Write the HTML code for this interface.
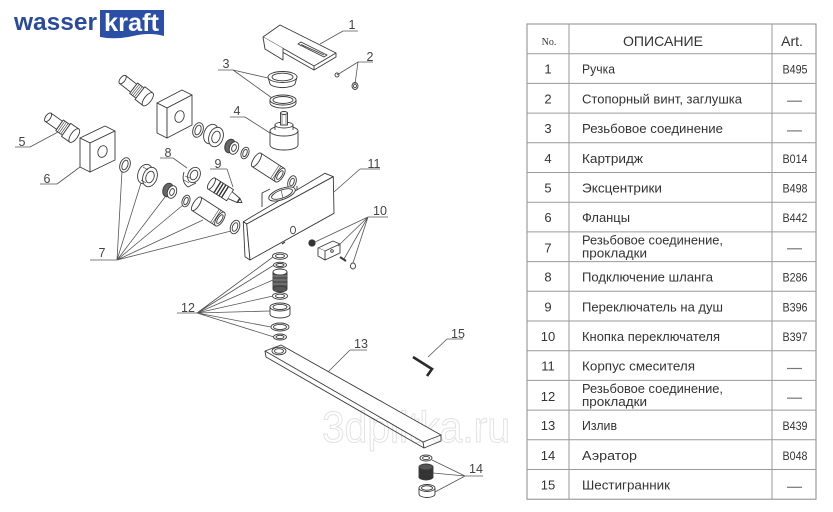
<!DOCTYPE html>
<html><head><meta charset="utf-8">
<style>
html,body{margin:0;padding:0;background:#fff;}
svg{display:block;}
</style></head>
<body>
<svg width="833" height="512" viewBox="0 0 833 512" xmlns="http://www.w3.org/2000/svg" font-family="'Liberation Sans', sans-serif">
<rect width="833" height="512" fill="#fff"/>

<!-- LOGO -->
<text x="14" y="30" font-size="24" font-weight="bold" fill="#2a4a9c" textLength="83" lengthAdjust="spacingAndGlyphs">wasser</text>
<path d="M100,10 H164 V36 Q150,32 133,36 Q116,40 100,37 Z" fill="#2b4fa6"/>
<text x="104" y="31" font-size="25" font-weight="bold" fill="#fff" textLength="55" lengthAdjust="spacingAndGlyphs">kraft</text>

<!-- WATERMARK -->
<text x="322" y="442" font-size="44" fill="#fff" stroke="#e2e2e2" stroke-width="1" textLength="188" lengthAdjust="spacingAndGlyphs">3dplitka.ru</text>

<g fill="none" stroke="#3a3a3a" stroke-width="0.9" stroke-linejoin="round">
<!-- Part 1 handle -->
<path d="M263,37 L280,25 L336,53 L314,66 Z" fill="#fff"/>
<path d="M336,53 L336,57 L314,70 L314,66"/>
<path d="M283,52.4 L314,70"/>
<path d="M263,37 L265,49 L283,60 L283,48.4" fill="#fff"/>
<path d="M298,44 L301,42 L327,55 L324,57 Z"/>
<path d="M301,44.5 L324,55"/>
<!-- Part 2 -->
<circle cx="337" cy="75" r="2"/>
<ellipse cx="355" cy="86" rx="3" ry="3.5"/>
<ellipse cx="355" cy="86" rx="1.5" ry="1.8"/>
<!-- Part 3 cap -->
<path d="M268,77 L270,84 A13,5 0 0 0 295,84 L297,77"/>
<ellipse cx="282.5" cy="77" rx="14.5" ry="5.5" fill="#fff"/>
<ellipse cx="282.5" cy="77" rx="10.5" ry="3.8"/>
<!-- Part 3 ring -->
<path d="M270,100 L270,103 A13,5 0 0 0 296,103 L296,100"/>
<ellipse cx="283" cy="100" rx="13" ry="5" fill="#fff"/>
<ellipse cx="283" cy="100" rx="10" ry="3.5"/>
<!-- Part 4 cartridge -->
<path d="M270,131 L270,145 A14,5 0 0 0 298,145 L298,131"/>
<ellipse cx="284" cy="131" rx="14" ry="5" fill="#fff"/>
<path d="M275,130 L275,125 L293,125 L293,130" fill="#fff"/>
<ellipse cx="284" cy="125" rx="9" ry="3" fill="#fff"/>
<rect x="280.5" y="113" width="7" height="12" fill="#fff"/>
<ellipse cx="284" cy="113" rx="3.5" ry="1.5" fill="#fff"/>
<path d="M282,115 V124 M286,115 V124" stroke-width="0.6"/>

<!-- Eccentric 5 -->
<g transform="translate(62,127) rotate(35)">
<rect x="-17" y="-5" width="14" height="10" fill="#fff"/>
<ellipse cx="-17" cy="0" rx="2.5" ry="5" fill="#fff"/>
<rect x="-3" y="-6.5" width="8" height="13" fill="#fff"/>
<path d="M-1,-6.5 V6.5 M1,-6.5 V6.5 M3,-6.5 V6.5" stroke-width="0.6"/>
<rect x="5" y="-8" width="10" height="16" fill="#fff"/>
<ellipse cx="15" cy="0" rx="3.5" ry="8" fill="#fff"/>
</g>
<!-- Eccentric upper -->
<g transform="translate(136,90) rotate(38)">
<rect x="-17" y="-5" width="14" height="10" fill="#fff"/>
<ellipse cx="-17" cy="0" rx="2.5" ry="5" fill="#fff"/>
<rect x="-3" y="-6.5" width="8" height="13" fill="#fff"/>
<path d="M-1,-6.5 V6.5 M1,-6.5 V6.5 M3,-6.5 V6.5" stroke-width="0.6"/>
<rect x="5" y="-8" width="10" height="16" fill="#fff"/>
<ellipse cx="15" cy="0" rx="3.5" ry="8" fill="#fff"/>
</g>
<!-- Flange 6 -->
<path d="M80,138 L105,126 L115,131 L90,143 Z" fill="#fff"/>
<path d="M80,138 L90,143 L90,172 L80,167 Z" fill="#fff"/>
<path d="M90,143 L115,131 L115,160 L90,172 Z" fill="#fff"/>
<ellipse cx="102.5" cy="151.5" rx="4.5" ry="6" transform="rotate(20 102.5 151.5)"/>
<!-- Flange upper -->
<path d="M157,103 L182,90 L192,95 L167,108 Z" fill="#fff"/>
<path d="M157,103 L167,108 L167,138 L157,133 Z" fill="#fff"/>
<path d="M167,108 L192,95 L192,125 L167,138 Z" fill="#fff"/>
<ellipse cx="179.5" cy="116.5" rx="4.5" ry="6" transform="rotate(20 179.5 116.5)"/>

<!-- Row of parts 7 (lower) -->
<ellipse cx="125" cy="165" rx="5" ry="7.5" transform="rotate(20 125 165)"/>
<ellipse cx="125" cy="165" rx="2.8" ry="5" transform="rotate(20 125 165)"/>
<ellipse cx="145" cy="174" rx="7" ry="10" transform="rotate(20 145 174)" fill="#fff"/>
<ellipse cx="150" cy="177" rx="7" ry="10" transform="rotate(20 150 177)" fill="#fff"/>
<ellipse cx="150" cy="177" rx="4" ry="6" transform="rotate(20 150 177)"/>
<path d="M143,167 L148,170 M141,180 L146,183" stroke-width="0.6"/>
<ellipse cx="168" cy="190" rx="5" ry="7" transform="rotate(20 168 190)" fill="#666"/>
<ellipse cx="172" cy="192" rx="4.5" ry="6.5" transform="rotate(20 172 192)" fill="#fff"/>
<ellipse cx="172" cy="192" rx="2.2" ry="3.5" transform="rotate(20 172 192)"/>
<ellipse cx="186" cy="201" rx="3.8" ry="6" transform="rotate(20 186 201)"/>
<ellipse cx="186" cy="201" rx="2" ry="3.8" transform="rotate(20 186 201)"/>
<g transform="translate(209,212) rotate(33)">
<rect x="-15" y="-8" width="28" height="16" fill="#fff"/>
<ellipse cx="-15" cy="0" rx="3" ry="8" fill="#fff"/>
<ellipse cx="13" cy="0" rx="3.5" ry="8" fill="#fff"/>
<ellipse cx="13" cy="0" rx="2" ry="5"/>
<path d="M7,-8 V8 M9,-8 V8" stroke-width="0.6"/>
</g>
<ellipse cx="235" cy="227" rx="4.5" ry="7" transform="rotate(20 235 227)"/>
<ellipse cx="235" cy="227" rx="2.5" ry="4.5" transform="rotate(20 235 227)"/>

<!-- Row of parts (upper) -->
<ellipse cx="198" cy="130" rx="5" ry="7.5" transform="rotate(20 198 130)"/>
<ellipse cx="198" cy="130" rx="2.8" ry="5" transform="rotate(20 198 130)"/>
<ellipse cx="211" cy="134" rx="7" ry="10" transform="rotate(20 211 134)" fill="#fff"/>
<ellipse cx="216" cy="137" rx="7" ry="10" transform="rotate(20 216 137)" fill="#fff"/>
<ellipse cx="216" cy="137" rx="4" ry="6" transform="rotate(20 216 137)"/>
<ellipse cx="230" cy="146" rx="5" ry="7" transform="rotate(20 230 146)" fill="#666"/>
<ellipse cx="234" cy="148" rx="4.5" ry="6.5" transform="rotate(20 234 148)" fill="#fff"/>
<ellipse cx="234" cy="148" rx="2.2" ry="3.5" transform="rotate(20 234 148)"/>
<ellipse cx="245" cy="153" rx="3.8" ry="6" transform="rotate(20 245 153)"/>
<ellipse cx="245" cy="153" rx="2" ry="3.8" transform="rotate(20 245 153)"/>
<g transform="translate(269,168) rotate(33)">
<rect x="-15" y="-8" width="28" height="16" fill="#fff"/>
<ellipse cx="-15" cy="0" rx="3" ry="8" fill="#fff"/>
<ellipse cx="13" cy="0" rx="3.5" ry="8" fill="#fff"/>
<ellipse cx="13" cy="0" rx="2" ry="5"/>
<path d="M7,-8 V8 M9,-8 V8" stroke-width="0.6"/>
</g>
<ellipse cx="292" cy="182" rx="4" ry="6.5" transform="rotate(20 292 182)"/>
<ellipse cx="292" cy="182" rx="2" ry="4" transform="rotate(20 292 182)"/>

<!-- Part 8 elbow -->
<path d="M184,172 Q181,182 188,187 L196,183" fill="#fff"/>
<ellipse cx="194" cy="175" rx="6" ry="8" transform="rotate(25 194 175)" fill="#fff"/>
<ellipse cx="194" cy="175" rx="3.5" ry="5" transform="rotate(25 194 175)"/>
<path d="M185,176 L190,178 M184,180 L189,183" stroke-width="0.6"/>

<!-- Part 9 diverter -->
<g transform="translate(225,192) rotate(32)">
<rect x="-16" y="-6.5" width="22" height="13" fill="#fff"/>
<ellipse cx="-16" cy="0" rx="2.5" ry="6.5" fill="#fff"/>
<path d="M-9,-6.5 V6.5 M-6,-6.5 V6.5 M-3,-6.5 V6.5 M0,-6.5 V6.5" stroke="#333" stroke-width="1.4"/>
<path d="M6,-4 L16,-2.5 L20,0 L16,2.5 L6,4" fill="#fff"/>
<path d="M16,-2.5 L16,2.5" stroke-width="1.6"/>
</g>

<!-- Part 11 body -->
<path d="M243.3,221.7 L325,173.3 L333.3,176.7 L246.7,224 Z" fill="#fff"/>
<path d="M243.3,221.7 L246.7,224 L250,260 L245,256.7 Z" fill="#fff"/>
<path d="M246.7,224 L333.3,176.7 L334,213.3 L250,260 Z" fill="#fff"/>
<path d="M262,207 L262,193 L270,189 M297,190 L297,186" />
<ellipse cx="282" cy="194" rx="14" ry="5.5" fill="#fff" transform="rotate(-20 282 194)"/>
<ellipse cx="282" cy="194" rx="11" ry="4" transform="rotate(-20 282 194)"/>
<path d="M281,190 L283,198" stroke-width="0.6"/>
<ellipse cx="293" cy="230" rx="2.5" ry="3.8"/>
<path d="M282,244 L285,242" stroke-width="1.2"/>

<!-- Part 10 -->
<circle cx="312" cy="243" r="3.2" fill="#333"/>
<path d="M318,248 L333,241 L340,244 L325,251 Z" fill="#fff"/>
<path d="M318,248 L318,256 L325,260 L325,251 M325,260 L340,253 L340,244" fill="#fff"/>
<circle cx="332" cy="251" r="1.3"/>
<path d="M340,257 L346,261" stroke-width="2"/>
<ellipse cx="353" cy="266" rx="2.5" ry="3"/>

<!-- Part 12 stack -->
<ellipse cx="280" cy="256" rx="7.5" ry="3.3"/>
<ellipse cx="280" cy="256" rx="4.5" ry="1.8"/>
<ellipse cx="280" cy="265" rx="6.5" ry="2.8"/>
<ellipse cx="280" cy="265" rx="4" ry="1.5"/>
<rect x="273" y="272" width="14" height="17" fill="#555"/>
<path d="M273,276 H287 M273,280 H287 M273,284 H287" stroke="#999" stroke-width="0.7"/>
<ellipse cx="280" cy="272" rx="7" ry="3" fill="#fff"/>
<ellipse cx="280" cy="289" rx="7" ry="3" fill="#555"/>
<ellipse cx="280" cy="296" rx="7.5" ry="3.3"/>
<ellipse cx="280" cy="296" rx="4.5" ry="1.8"/>
<path d="M270,307 L270,314 A10,4 0 0 0 290,314 L290,307" fill="#fff"/>
<ellipse cx="280" cy="307" rx="10" ry="4" fill="#fff"/>
<ellipse cx="280" cy="307" rx="7" ry="2.6"/>
<ellipse cx="280" cy="327" rx="9" ry="4"/>
<ellipse cx="280" cy="327" rx="6.5" ry="2.6"/>
<ellipse cx="280" cy="337" rx="6.5" ry="3"/>
<ellipse cx="280" cy="337" rx="4" ry="1.7"/>

<!-- Part 13 spout -->
<path d="M265,351 L281,345 L441,435 L423,442 Z" fill="#fff"/>
<path d="M265,351 L266,357 L424,448 L423,442 M424,448 L441,441 L441,435"/>
<ellipse cx="279" cy="351" rx="7" ry="3.8" fill="#fff"/>
<ellipse cx="279" cy="351" rx="4.5" ry="2.3"/>

<!-- Part 15 hex key -->
<path d="M413,357 L432,369 L427,376" stroke="#2a2a2a" stroke-width="2.6" stroke-linejoin="miter"/>

<!-- Part 14 aerator -->
<ellipse cx="426" cy="458" rx="6" ry="3"/>
<ellipse cx="426" cy="458" rx="3.5" ry="1.6"/>
<rect x="419" y="467" width="14" height="10" fill="#333"/>
<ellipse cx="426" cy="467" rx="7" ry="3" fill="#555"/>
<ellipse cx="426" cy="477" rx="7" ry="3" fill="#333"/>
<path d="M419,488 L419,494 A8,3.5 0 0 0 435,494 L435,488" fill="#fff"/>
<ellipse cx="427" cy="488" rx="8" ry="3.5" fill="#fff"/>
<ellipse cx="427" cy="488" rx="5.5" ry="2.2"/>
</g>

<!-- LEADER LINES -->
<g stroke="#555" stroke-width="0.8" fill="none">
<path d="M343,31 H358 M343,31 L320,44"/>
<path d="M358,62 H373 M358,62 L337,75 M358,62 L355,84"/>
<path d="M218,70 H233 M233,70 L268,78 M233,70 L272,98"/>
<path d="M230,117 H245 M245,117 L270,133"/>
<path d="M15,147 H30 M30,147 L58,132"/>
<path d="M40,184 H57 M57,184 L80,167"/>
<path d="M90,260 H117 M117,260 L122,171 M117,260 L141,183 M117,260 L165,197 M117,260 L183,205 M117,260 L203,220 M117,260 L231,231"/>
<path d="M160,158 H173 M173,158 L187,168"/>
<path d="M210,169 H227 M227,169 L233,187"/>
<path d="M368,217 H388 M368,217 L315,242 M368,217 L338,246 M368,217 L344,259 M368,217 L353,263"/>
<path d="M360,169 H380 M360,169 L334,192"/>
<path d="M177,313 H197 M197,313 L273,257 M197,313 L274,265 M197,313 L273,280 M197,313 L273,296 M197,313 L270,311 M197,313 L271,327 M197,313 L274,337"/>
<path d="M350,350 H367 M350,350 L328,372"/>
<path d="M447,339 H463 M447,339 L428,357"/>
<path d="M465,476 H483 M465,476 L432,460 M465,476 L433,473 M465,476 L435,492"/>
</g>

<!-- LABELS -->
<g font-size="12.5" fill="#444" text-anchor="middle">
<text x="352" y="29">1</text>
<text x="370" y="61">2</text>
<text x="226" y="68">3</text>
<text x="237" y="115">4</text>
<text x="22" y="146">5</text>
<text x="47" y="183">6</text>
<text x="102" y="257">7</text>
<text x="168" y="157">8</text>
<text x="218" y="168">9</text>
<text x="380" y="215">10</text>
<text x="374" y="168">11</text>
<text x="188" y="312">12</text>
<text x="361" y="348">13</text>
<text x="476" y="473">14</text>
<text x="458" y="338">15</text>
</g>

<!-- TABLE -->
<g stroke="#9a9a9a" stroke-width="1" fill="none">
<rect x="527" y="24" width="289" height="475.2" stroke="#8a8a8a"/>
<path d="M569,24 V499.2 M772,24 V499.2"/>
<path d="M527,53.7 H816 M527,83.4 H816 M527,113.1 H816 M527,142.8 H816 M527,172.5 H816 M527,202.2 H816 M527,231.9 H816 M527,261.6 H816 M527,291.3 H816 M527,321 H816 M527,350.7 H816 M527,380.4 H816 M527,410.1 H816 M527,439.8 H816 M527,469.5 H816"/>
</g>
<text x="549" y="45" font-family="'Liberation Serif', serif" font-size="10" fill="#333" text-anchor="middle">No.</text>
<text x="663" y="46" font-size="14" fill="#333" text-anchor="middle" textLength="80" lengthAdjust="spacingAndGlyphs">ОПИСАНИЕ</text>
<text x="792" y="46" font-size="14" fill="#333" text-anchor="middle">Art.</text>

<g font-size="13" fill="#333" text-anchor="middle">
<text x="548" y="73.7">1</text>
<text x="548" y="103.4">2</text>
<text x="548" y="133.1">3</text>
<text x="548" y="162.8">4</text>
<text x="548" y="192.5">5</text>
<text x="548" y="222.2">6</text>
<text x="548" y="252.4">7</text>
<text x="548" y="281.6">8</text>
<text x="548" y="311.3">9</text>
<text x="548" y="341">10</text>
<text x="548" y="370.7">11</text>
<text x="548" y="400.9">12</text>
<text x="548" y="430.1">13</text>
<text x="548" y="459.8">14</text>
<text x="548" y="489.5">15</text>
</g>

<g font-size="12.5" fill="#333" lengthAdjust="spacingAndGlyphs">
<text x="582" y="73.7" textLength="33" lengthAdjust="spacingAndGlyphs">Ручка</text>
<text x="582" y="103.4" textLength="160" lengthAdjust="spacingAndGlyphs">Стопорный винт, заглушка</text>
<text x="582" y="133.1" textLength="141" lengthAdjust="spacingAndGlyphs">Резьбовое соединение</text>
<text x="582" y="162.8" textLength="61" lengthAdjust="spacingAndGlyphs">Картридж</text>
<text x="582" y="192.5" textLength="80" lengthAdjust="spacingAndGlyphs">Эксцентрики</text>
<text x="582" y="222.2" textLength="48" lengthAdjust="spacingAndGlyphs">Фланцы</text>
<text x="582" y="244.4" textLength="141" lengthAdjust="spacingAndGlyphs">Резьбовое соединение,</text>
<text x="582" y="257.4" textLength="65" lengthAdjust="spacingAndGlyphs">прокладки</text>
<text x="582" y="281.6" textLength="131" lengthAdjust="spacingAndGlyphs">Подключение шланга</text>
<text x="582" y="311.3" textLength="141" lengthAdjust="spacingAndGlyphs">Переключатель на душ</text>
<text x="582" y="341" textLength="138" lengthAdjust="spacingAndGlyphs">Кнопка переключателя</text>
<text x="582" y="370.7" textLength="113" lengthAdjust="spacingAndGlyphs">Корпус смесителя</text>
<text x="582" y="392.9" textLength="141" lengthAdjust="spacingAndGlyphs">Резьбовое соединение,</text>
<text x="582" y="405.9" textLength="65" lengthAdjust="spacingAndGlyphs">прокладки</text>
<text x="582" y="430.1" textLength="35" lengthAdjust="spacingAndGlyphs">Излив</text>
<text x="582" y="459.8" textLength="55" lengthAdjust="spacingAndGlyphs">Аэратор</text>
<text x="582" y="489.5" textLength="88" lengthAdjust="spacingAndGlyphs">Шестигранник</text>
</g>

<g font-size="11.5" fill="#333" text-anchor="middle">
<text x="795" y="73.7" textLength="25" lengthAdjust="spacingAndGlyphs">B495</text>
<text x="795" y="162.8" textLength="25" lengthAdjust="spacingAndGlyphs">B014</text>
<text x="795" y="192.5" textLength="25" lengthAdjust="spacingAndGlyphs">B498</text>
<text x="795" y="222.2" textLength="25" lengthAdjust="spacingAndGlyphs">B442</text>
<text x="795" y="281.6" textLength="25" lengthAdjust="spacingAndGlyphs">B286</text>
<text x="795" y="311.3" textLength="25" lengthAdjust="spacingAndGlyphs">B396</text>
<text x="795" y="341" textLength="25" lengthAdjust="spacingAndGlyphs">B397</text>
<text x="795" y="430.1" textLength="25" lengthAdjust="spacingAndGlyphs">B439</text>
<text x="795" y="459.8" textLength="25" lengthAdjust="spacingAndGlyphs">B048</text>
</g>

<g stroke="#777" stroke-width="1.2">
<path d="M787,101.2 H802"/>
<path d="M787,130.9 H802"/>
<path d="M787,248.8 H802"/>
<path d="M787,368.5 H802"/>
<path d="M787,398.2 H802"/>
<path d="M787,487.3 H802"/>
</g>
</svg>
</body></html>
